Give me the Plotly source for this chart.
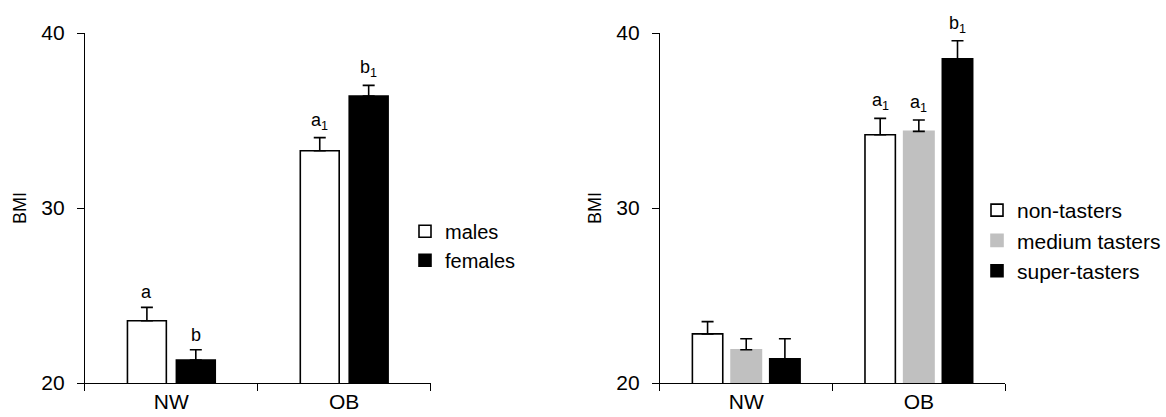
import plotly.graph_objects as go

# ---------------- data ----------------
groups = ["NW", "OB"]

sex_names = ["males", "females"]
sex_bmi = [[23.56, 33.27], [21.31, 36.40]]
sex_err = [[0.76, 0.75], [0.59, 0.61]]
sex_labels = [["a", "a<sub>1</sub>"], ["b", "b<sub>1</sub>"]]

taster_names = ["non-tasters", "medium tasters", "super-tasters"]
taster_bmi = [[22.81, 34.19], [21.90, 34.38], [21.39, 38.52]]
taster_err = [[0.70, 0.93], [0.63, 0.65], [1.14, 1.04]]
taster_labels = [["", "a<sub>1</sub>"], ["", "a<sub>1</sub>"], ["", "b<sub>1</sub>"]]

y_ticks = [20, 30, 40]

# ---------------- style ----------------
FONT = "Arial, 'Liberation Sans', sans-serif"
W_PX, H_PX = 1166, 417
sex_fill = ["white", "black"]
sex_line = ["black", "black"]
taster_fill = ["white", "#c0c0c0", "black"]
taster_line = ["black", "#c0c0c0", "black"]

fig = go.Figure()

def add_group(names, vals, errs, labels, fills, lines, width, gap, xa, ya, legend):
    n = len(names)
    total = n * width + (n - 1) * gap
    for k in range(n):
        off = -total / 2 + k * (width + gap)
        fig.add_trace(go.Bar(
            x=groups, y=vals[k], name=names[k],
            base=0,
            width=width, offset=off,
            marker=dict(color=fills[k], line=dict(color=lines[k], width=1.6)),
            error_y=dict(type="data", symmetric=False, array=errs[k],
                         arrayminus=[0] * len(groups), color="black",
                         thickness=1.6, width=6),
            xaxis=xa, yaxis=ya, legend=legend,
        ))
        for i in range(len(groups)):
            if labels[k][i]:
                fig.add_annotation(
                    x=i + off + width / 2, y=vals[k][i] + errs[k][i],
                    xref=xa, yref=ya.replace("axis", ""),
                    text=labels[k][i], showarrow=False,
                    yanchor="bottom", yshift=3,
                    font=dict(family=FONT, size=18, color="black"),
                )

add_group(sex_names, sex_bmi, sex_err, sex_labels, sex_fill, sex_line,
          0.225, 0.058, "x", "y", "legend")
add_group(taster_names, taster_bmi, taster_err, taster_labels, taster_fill, taster_line,
          0.176, 0.048, "x2", "y2", "legend2")

axis_common = dict(showline=True, linecolor="black", linewidth=1,
                   ticks="outside", ticklen=7, tickcolor="black", tickwidth=1,
                   showgrid=False, zeroline=False,
                   tickfont=dict(family=FONT, size=21, color="black"))

xcommon = dict(axis_common, type="category", tickson="boundaries",
               range=[-0.5, 1.5], categoryorder="array", categoryarray=groups)
ycommon = dict(axis_common, range=[20, 40], tickvals=y_ticks,
               ticklabelstandoff=8,
               title=dict(text="BMI", font=dict(family=FONT, size=18, color="black"),
                          standoff=10))

fig.update_layout(
    width=W_PX, height=H_PX,
    margin=dict(l=0, r=0, t=33, b=34),
    plot_bgcolor="white", paper_bgcolor="white",
    barmode="overlay",
    xaxis=dict(xcommon, domain=[85 / W_PX, 431 / W_PX], anchor="y"),
    yaxis=dict(ycommon, anchor="x"),
    xaxis2=dict(xcommon, domain=[660.5 / W_PX, 1006 / W_PX], anchor="y2"),
    yaxis2=dict(ycommon, anchor="x2"),
    legend=dict(x=405 / W_PX, y=1 - 213 / H_PX, xanchor="left", yanchor="top",
                font=dict(family=FONT, size=20, color="black"),
                bgcolor="rgba(0,0,0,0)", itemwidth=30, tracegroupgap=0),
    legend2=dict(x=978 / W_PX, y=1 - 187 / H_PX, xanchor="left", yanchor="top",
                 font=dict(family=FONT, size=21, color="black"),
                 bgcolor="rgba(0,0,0,0)", itemwidth=30, tracegroupgap=0),
    showlegend=True,
)

fig.write_html("out.html")
